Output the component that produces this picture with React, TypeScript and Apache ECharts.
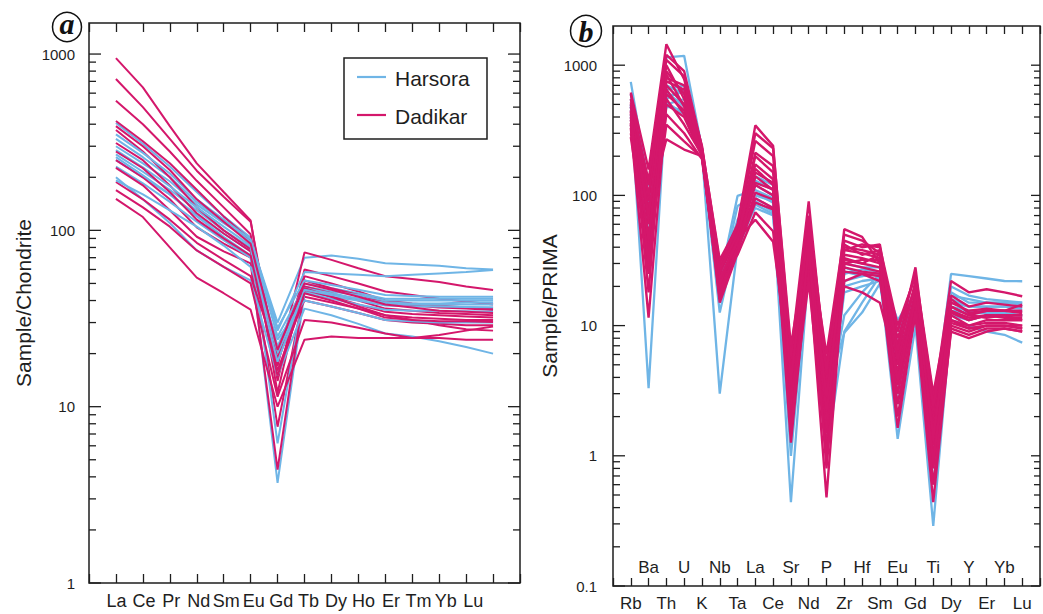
import React, { useEffect, useRef } from 'react';
import * as echarts from 'echarts';

// ---------- Panel a: chondrite-normalised REE (15 plotted positions, Pm slot included) ----------
const reeLabels = ['La', 'Ce', 'Pr', 'Nd', 'Sm', 'Eu', 'Gd', 'Tb', 'Dy', 'Ho', 'Er', 'Tm', 'Yb', 'Lu'];

const reeHarsora: number[][] = [
  [300, 240, 190, 140, 110, 88, 30, 70, 72, 69, 65, 64, 63, 61, 60],
  [406, 310, 230, 165, 120, 91, 27, 58, 57, 56, 55, 56, 57, 58, 59.6],
  [270, 215, 170, 130, 100, 80, 22, 50, 47, 44, 41, 41, 41, 41, 41],
  [330, 260, 200, 145, 112, 86, 25, 48, 45, 43, 40, 40, 40, 40, 40],
  [250, 200, 160, 122, 96, 76, 20, 45, 42, 40, 37.5, 37, 37, 36.8, 36.6],
  [285, 228, 178, 135, 105, 82, 6.2, 47, 44, 41, 38.5, 38, 38, 38, 38],
  [230, 185, 145, 112, 88, 70, 3.7, 44, 41, 38, 35.5, 35, 35, 34.8, 34.5],
  [200, 150, 110, 77, 62, 52, 15, 36, 33, 29.5, 26, 25, 23.5, 21.8, 20],
  [192, 160, 130, 105, 82, 62, 24, 40, 37, 34, 31, 30.5, 30, 30, 30],
  [350, 275, 210, 150, 115, 89, 28, 52, 49, 46, 43, 42.5, 42, 42, 42],
  [260, 205, 160, 120, 92, 72, 18, 46, 43, 41, 39, 38.5, 38.5, 39, 39],
];

const reeDadikar: number[][] = [
  [949, 647, 390, 240, 165, 114, 14, 60, 55, 50, 45, 43, 41, 39.5, 38],
  [722, 500, 330, 218, 155, 112, 17, 75, 68, 61, 55, 53, 51, 48, 45.9],
  [543, 400, 280, 191, 135, 95, 12, 55, 50, 45, 40, 38.5, 37.5, 36.5, 36],
  [417, 320, 240, 170, 120, 88, 20, 52, 47, 43, 39, 37.5, 36.5, 36, 35.4],
  [371, 280, 200, 135, 100, 78, 18, 48, 44, 40, 36, 35, 34, 33.5, 33],
  [313, 250, 180, 125, 96, 76, 7.7, 46, 42, 38, 34.5, 33.5, 33, 32.5, 32],
  [250, 200, 150, 104, 84, 70, 16, 42, 39, 36, 33, 32, 31.5, 31, 31],
  [226, 180, 130, 92, 76, 65, 4.4, 47, 42, 37, 33, 31, 29, 27.5, 27],
  [188, 150, 115, 85, 68, 55, 19, 40, 37, 34, 31, 30, 29.5, 29, 29],
  [169, 135, 105, 77, 62, 50, 11.4, 31, 30, 28, 26, 24.5, 25.5, 27, 28.5],
  [151, 119, 80, 54, 44, 35.5, 10, 24, 25, 24.5, 24.5, 24.5, 24.5, 24, 24],
  [390, 300, 220, 150, 112, 84, 21, 50, 46, 42, 38, 36.5, 35, 34.5, 34],
  [280, 225, 165, 115, 90, 72, 15, 44, 40, 36, 32, 31, 30.5, 30.5, 30.2],
];

// ---------- Panel b: PRIMA-normalised spider diagram ----------
const spiderLabels = ['Rb', 'Ba', 'Th', 'U', 'K', 'Nb', 'Ta', 'La', 'Ce', 'Sr', 'Nd', 'P', 'Zr', 'Hf', 'Sm', 'Eu', 'Gd', 'Ti', 'Dy', 'Y', 'Er', 'Yb', 'Lu'];

const spiderHarsora: number[][] = [
  [745, 118, 1150, 1180, 230, 25, 60, 130, 110, 4, 40, 2.5, 28, 25, 24, 8, 16, 2, 25, 24, 23, 22, 21.9],
  [600, 80, 700, 600, 220, 22, 99, 110, 95, 2.5, 35, 2, 25, 27, 26, 11, 18, 1.5, 20, 17, 16, 15.5, 15],
  [500, 3.3, 600, 500, 210, 20, 83, 100, 90, 1, 30, 1.5, 22, 24, 25, 6, 15, 1, 16, 14, 14, 14, 13.5],
  [450, 60, 550, 650, 215, 3, 40, 95, 80, 0.44, 28, 1, 9, 15, 24, 1.35, 10, 0.29, 11, 10, 9, 8.5, 7.4],
  [400, 40, 480, 450, 205, 12.6, 50, 90, 75, 3, 32, 3, 8.8, 12.6, 21, 4, 14, 1.2, 14, 13, 13, 13, 13],
  [550, 90, 650, 700, 225, 24, 55, 140, 120, 5, 38, 4, 30, 28, 28, 7, 17, 2.5, 18, 15, 15, 15, 15],
  [350, 50, 500, 550, 200, 18, 45, 80, 70, 1.8, 28, 1.2, 20, 22, 23, 3, 13, 0.8, 15, 14, 14, 14, 14],
  [480, 70, 620, 480, 215, 21, 48, 120, 100, 3.5, 34, 2.8, 26, 24, 26, 9, 19, 1.8, 17, 16, 15, 15, 14.5],
  [420, 30, 520, 420, 210, 16, 38, 85, 72, 1.3, 30, 1.6, 18, 20, 22, 2.5, 12, 0.6, 12, 11, 12, 12, 12],
  [380, 100, 580, 620, 220, 23, 65, 105, 88, 2.2, 33, 2.2, 12, 18, 25, 5, 15, 1.4, 13, 12.5, 12.5, 12.5, 12],
];

const spiderDadikar: number[][] = [
  [617, 158, 1450, 780, 240, 30, 60, 345, 240, 6, 90, 4, 55, 48, 30, 8, 20, 2.5, 22, 18, 19, 18, 16.8],
  [550, 120, 1100, 820, 230, 28, 55, 262, 200, 5, 60, 3.5, 45, 40, 42, 7, 28, 2.2, 17, 14, 15, 14.5, 14],
  [480, 90, 900, 600, 220, 25, 50, 213, 168, 4, 50, 3, 40, 38, 35, 6, 22, 2, 14, 12, 13, 13, 12.5],
  [420, 60, 800, 700, 215, 22, 48, 173, 133, 3, 45, 2.5, 38, 36, 33, 5, 18, 1.8, 13, 11.5, 12, 12, 12],
  [380, 40, 700, 500, 210, 20, 45, 150, 125, 2.5, 40, 2, 35, 33, 30, 4, 16, 1.5, 12.5, 11, 12, 11.5, 11.5],
  [350, 25, 600, 450, 205, 18, 42, 125, 111, 2, 35, 1.8, 33, 30, 28, 3.5, 15, 1.2, 12, 10, 11, 11, 11],
  [330, 11.5, 500, 400, 200, 16, 40, 105, 93, 1.26, 30, 1.5, 30, 28, 26, 3, 14, 1, 11, 10, 10.5, 10.5, 10],
  [300, 50, 420, 300, 190, 19, 38, 88, 78, 3.5, 28, 0.48, 28, 26, 25, 1.64, 13, 0.8, 10, 9, 10, 10, 9.5],
  [280, 35, 350, 260, 195, 24, 35, 74, 53, 2.8, 25, 1.2, 26, 25, 24, 2.5, 12, 0.44, 9.5, 8.5, 9.5, 9.5, 9],
  [600, 100, 1000, 550, 225, 26, 52, 200, 150, 5.5, 70, 5, 42, 35, 38, 9, 25, 3, 16, 12.5, 13, 13, 14.5],
  [500, 80, 270, 225, 200, 21, 46, 65, 44, 4.5, 32, 2.2, 20, 18, 15, 4.5, 15, 1.6, 11, 9.5, 10, 10, 10],
  [450, 70, 750, 650, 215, 27, 50, 160, 120, 3.8, 55, 4.5, 38, 42, 40, 10, 24, 2.8, 14, 12, 11.5, 12, 12],
  [400, 45, 650, 420, 210, 23, 44, 120, 100, 2.2, 38, 2.8, 32, 30, 35, 5.5, 17, 1.4, 13, 11, 12, 12, 11],
  [360, 30, 550, 350, 205, 17, 40, 95, 80, 1.8, 22, 1, 22, 25, 22, 3.8, 16, 0.6, 9, 8, 9, 9.5, 9],
  [520, 130, 1200, 900, 235, 32, 58, 300, 230, 7, 48, 6, 50, 45, 36, 6.5, 20, 2.4, 15, 13, 13.5, 13, 13],
  [440, 18, 850, 480, 220, 15, 36, 140, 110, 1.5, 42, 0.8, 30, 32, 32, 2, 13, 0.9, 10.5, 9.5, 10, 10, 9.5],
];

const groupNames = ['Harsora', 'Dadikar'];

const BLUE = '#6fb5e6';
const PINK = '#d4176b';
const INK = '#1e1e1e';
const FONT = "'Liberation Sans', Arial, Helvetica, sans-serif";

function decadeLabel(v: number): string {
  const l = Math.log10(v);
  const p = Math.round(l);
  if (Math.abs(l - p) > 1e-6) return '';
  return p >= 0 ? String(Math.pow(10, p)) : Math.pow(10, p).toFixed(-p);
}

// log-axis tick positions (decades = major, 2..9 = minor)
function logTicks(lo: number, hi: number): { value: number[] }[] {
  const out: { value: number[] }[] = [];
  for (let p = Math.floor(Math.log10(lo)); p <= Math.ceil(Math.log10(hi)); p++) {
    for (let m = 1; m <= 9; m++) {
      const v = m * Math.pow(10, p);
      if (v >= lo * 0.999 && v < hi * 0.999) out.push({ value: [0, v, m === 1 ? 1 : 0] });
    }
  }
  return out;
}

function lineSeries(name: string, color: string, row: number[], xi: number, yi: number, width: number) {
  return {
    type: 'line',
    name,
    xAxisIndex: xi,
    yAxisIndex: yi,
    data: row.map((v, i) => [i, v]),
    symbol: 'none',
    showSymbol: false,
    color,
    lineStyle: { color, width },
    itemStyle: { color },
    emphasis: { disabled: true },
    silent: true,
    z: 2,
  };
}

function tickSeries(xi: number, yi: number, lo: number, hi: number, majorLen: number, minorLen: number, rMajor: number, rMinor: number) {
  return {
    type: 'custom',
    coordinateSystem: 'cartesian2d',
    xAxisIndex: xi,
    yAxisIndex: yi,
    silent: true,
    clip: false,
    z: 6,
    data: logTicks(lo, hi),
    renderItem: (params: any, api: any) => {
      const cs = params.coordSys;
      const y = api.coord([0, api.value(1)])[1];
      const major = !!api.value(2);
      const len = major ? majorLen : minorLen;
      const rlen = major ? rMajor : rMinor;
      const style = { stroke: INK, lineWidth: 1.3 };
      return {
        type: 'group',
        children: [
          { type: 'line', shape: { x1: cs.x, y1: y, x2: cs.x + len, y2: y }, style },
          { type: 'line', shape: { x1: cs.x + cs.width - rlen, y1: y, x2: cs.x + cs.width, y2: y }, style },
        ],
      };
    },
  };
}

const tickStyle = { color: INK, width: 1.3 };

export default function App() {
  const ref = useRef<HTMLDivElement>(null);

  useEffect(() => {
    document.body.style.margin = '0';
    if (!ref.current) return;
    const chart = echarts.init(ref.current, undefined, { renderer: 'svg' });

    const series: any[] = [];
    const n = Math.max(reeHarsora.length, reeDadikar.length);
    for (let i = 0; i < n; i++) {
      if (reeDadikar[i]) series.push(lineSeries(groupNames[1], PINK, reeDadikar[i], 0, 0, 2));
      if (reeHarsora[i]) series.push(lineSeries(groupNames[0], BLUE, reeHarsora[i], 0, 0, 2));
    }
    spiderHarsora.forEach((r) => series.push(lineSeries(groupNames[0], BLUE, r, 3, 2, 2.3)));
    spiderDadikar.forEach((r) => series.push(lineSeries(groupNames[1], PINK, r, 3, 2, 2.4)));
    series.push(tickSeries(0, 0, 1, 1500, 12, 7, 12, 7));
    series.push(tickSeries(3, 2, 0.1, 2000, 12, 7, 9, 6));

    const baseX = { type: 'value', axisLine: { show: false }, splitLine: { show: false } };
    const baseY = { type: 'log', logBase: 10, axisLine: { show: false }, splitLine: { show: false }, axisTick: { show: false } };
    const serif = "'Liberation Serif', 'DejaVu Serif', serif";

    const option: any = {
      animation: false,
      backgroundColor: '#ffffff',
      grid: [
        { left: 89, top: 23, width: 431, height: 560, show: true, borderColor: INK, borderWidth: 1.5, backgroundColor: 'transparent' },
        { left: 613, top: 26, width: 435, height: 560, show: true, borderColor: INK, borderWidth: 1.5, backgroundColor: 'transparent' },
      ],
      xAxis: [
        { ...baseX, gridIndex: 0, position: 'bottom', min: -1, max: 15, interval: 1,
          axisTick: { show: true, inside: true, length: 9, lineStyle: tickStyle }, axisLabel: { show: false } },
        { ...baseX, gridIndex: 0, position: 'top', min: -1, max: 15, interval: 1,
          axisTick: { show: true, inside: true, length: 9, lineStyle: tickStyle }, axisLabel: { show: false } },
        { ...baseX, gridIndex: 0, position: 'bottom', min: -1, max: 14.7, interval: 1,
          axisTick: { show: false },
          axisLabel: { show: true, margin: 9, fontSize: 18, color: INK, fontFamily: FONT,
            formatter: (v: number) => { const k = Math.round(v); return Math.abs(v - k) < 1e-6 && reeLabels[k] ? reeLabels[k] : ''; } } },
        { ...baseX, gridIndex: 1, position: 'bottom', min: -1, max: 23, interval: 1,
          axisTick: { show: true, inside: true, length: 8, lineStyle: tickStyle },
          axisLabel: { show: true, margin: 9, fontSize: 17, color: INK, fontFamily: FONT,
            formatter: (v: number) => { const k = Math.round(v); return Math.abs(v - k) < 1e-6 && k % 2 === 0 && spiderLabels[k] ? spiderLabels[k] : ''; } } },
        { ...baseX, gridIndex: 1, position: 'top', min: -1, max: 23, interval: 1,
          axisTick: { show: true, inside: true, length: 8, lineStyle: tickStyle }, axisLabel: { show: false } },
        { ...baseX, gridIndex: 1, position: 'bottom', min: -1, max: 23, interval: 1,
          axisTick: { show: false },
          axisLabel: { show: true, inside: true, margin: 10, fontSize: 17, color: INK, fontFamily: FONT,
            formatter: (v: number) => { const k = Math.round(v); return Math.abs(v - k) < 1e-6 && k % 2 === 1 && spiderLabels[k] ? spiderLabels[k] : ''; } } },
      ],
      yAxis: [
        { ...baseY, gridIndex: 0, position: 'left', min: 1, max: 1500,
          axisLabel: { margin: 14, fontSize: 15, color: INK, fontFamily: FONT, formatter: decadeLabel },
          name: 'Sample/Chondrite', nameLocation: 'middle', nameGap: 55,
          nameTextStyle: { fontSize: 21, color: INK, fontFamily: FONT } },
        { ...baseY, gridIndex: 0, position: 'right', min: 1, max: 1500, axisLabel: { show: false } },
        { ...baseY, gridIndex: 1, position: 'left', min: 0.1, max: 2000,
          axisLabel: { margin: 16, fontSize: 15, color: INK, fontFamily: FONT, formatter: decadeLabel },
          name: 'Sample/PRIMA', nameLocation: 'middle', nameGap: 46,
          nameTextStyle: { fontSize: 21, color: INK, fontFamily: FONT } },
        { ...baseY, gridIndex: 1, position: 'right', min: 0.1, max: 2000, axisLabel: { show: false } },
      ],
      graphic: [
        // legend box
        { type: 'rect', shape: { x: 344, y: 58, width: 143, height: 81 }, style: { fill: '#ffffff', stroke: INK, lineWidth: 1.5 }, z: 20 },
        { type: 'line', shape: { x1: 357, y1: 77, x2: 386, y2: 77 }, style: { stroke: BLUE, lineWidth: 2.2 }, z: 21 },
        { type: 'text', x: 395, y: 78, z: 21, style: { text: groupNames[0], fontSize: 21, fontFamily: FONT, fill: INK, align: 'left', verticalAlign: 'middle' } },
        { type: 'line', shape: { x1: 357, y1: 115, x2: 386, y2: 115 }, style: { stroke: PINK, lineWidth: 2.2 }, z: 21 },
        { type: 'text', x: 395, y: 116, z: 21, style: { text: groupNames[1], fontSize: 21, fontFamily: FONT, fill: INK, align: 'left', verticalAlign: 'middle' } },
        // panel letters
        { type: 'circle', shape: { cx: 67, cy: 27, r: 14.5 }, style: { fill: '#ffffff', stroke: '#111', lineWidth: 1.5 }, z: 10 },
        { type: 'text', x: 67, y: 23.5, z: 11,
          style: { text: 'a', fontSize: 30, fontStyle: 'italic', fontWeight: 'bold', fontFamily: serif, align: 'center', verticalAlign: 'middle', fill: '#111' } },
        { type: 'circle', shape: { cx: 586, cy: 31, r: 15.5 }, style: { fill: '#ffffff', stroke: '#111', lineWidth: 1.5 }, z: 10 },
        { type: 'text', x: 586, y: 31, z: 11,
          style: { text: 'b', fontSize: 30, fontStyle: 'italic', fontWeight: 'bold', fontFamily: serif, align: 'center', verticalAlign: 'middle', fill: '#111' } },
      ],
      series,
    };

    chart.setOption(option);
    return () => chart.dispose();
  }, []);

  return <div ref={ref} style={{ width: 1043, height: 614 }} />;
}
